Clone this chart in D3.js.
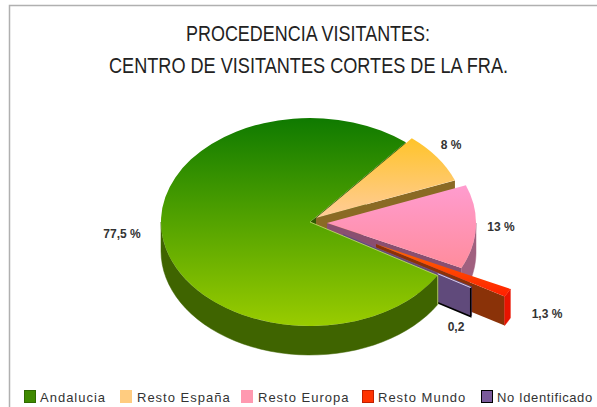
<!DOCTYPE html>
<html><head><meta charset="utf-8">
<script src="https://cdn.jsdelivr.net/npm/d3@7/dist/d3.min.js"></script>
<style>html,body{margin:0;padding:0;background:#fff;overflow:hidden}svg{display:block}</style>
</head><body><svg id="c" width="597" height="407"></svg>
<script>
const categories = ["Andalucia","Resto España","Resto Europa","Resto Mundo","No Identificado"];
const shares = [77.5,8,13,1.3,0.2];
const shareLabels = ["77,5 %","8 %","13 %","1,3 %","0,2"];
const titleLines = ["PROCEDENCIA VISITANTES:","CENTRO DE VISITANTES CORTES DE LA FRA."];

const W=597,H=407,cx=310,cy=222,rx=149,ry=104,depth=29;
const explode=[[0,0],[6,-4],[17,1],[66,22],[33,12]];
const topFrom=["#0f7a00","#ffc42a","#ff9ccf","#ff6a00","#8060a8"];
const topTo=["#99cc00","#ffcc99","#ff8c9c","#ff2000","#604a7b"];
const wall=["#2f5a00","#8a6a24","#8a4f70","#8a3208","#604a7b"];
const rim=["#3f6400","#8a6a24","#a0607f","#e81400","#604a7b"];
const swatch=["#3f8a00","#ffcc80","#ff99b0","#ff3300","#7a5a9a"];
const swatchStroke=["#2f6a00","#ffcc80","#ff99b0","#c02000","#000"];
const labelPos=[[122,238],[451,149],[501,231],[547,318],[456,331]];
const legendX=[24,120,241,362,481];
const legendTextX=[40,137,258,378,497];
const legendSpacing=[1,1,1,1,0.6];

const svg=d3.select("#c");
svg.append("rect").attr("width",W).attr("height",H).attr("fill","#fff");
svg.append("path").attr("d",`M9.5,${H} V5.5 H${W}`).attr("fill","none").attr("stroke","#b0b0b0").attr("stroke-width",1.5);

const title=svg.append("g").attr("font-family","'Liberation Sans',sans-serif").attr("font-size",22).attr("fill","#222").attr("text-anchor","middle");
title.selectAll("text").data(titleLines).join("text").attr("x",(d,i)=>[308,308.5][i]).attr("y",(d,i)=>[41,73][i])
  .attr("textLength",(d,i)=>[244,399][i]).attr("lengthAdjust","spacingAndGlyphs").text(d=>d);

const defs=svg.append("defs");
categories.forEach((c,i)=>{
  const g=defs.append("linearGradient").attr("id","g"+i).attr("x1",0).attr("y1",0).attr("x2",0).attr("y2",1);
  g.append("stop").attr("offset",0).attr("stop-color",topFrom[i]);
  g.append("stop").attr("offset",1).attr("stop-color",topTo[i]);
});

const deg=Math.PI/180;
const arcs=d3.pie().sort(null).startAngle(121*deg).endAngle(481*deg)(shares);
const arcGen=d3.arc().innerRadius(0).outerRadius(1);
const line=d3.line();
const pt=(a,i,z=0)=>[cx+explode[i][0]+rx*Math.sin(a),cy+explode[i][1]-ry*Math.cos(a)+z];
const ctr=(i,z=0)=>[cx+explode[i][0],cy+explode[i][1]+z];

function rimPts(a0,a1,i){
  const res=[];
  for(const k of [0,1]){
    const lo=Math.max(a0,90*deg+k*360*deg),hi=Math.min(a1,270*deg+k*360*deg);
    if(hi>lo){
      const s=d3.range(0,41).map(t=>lo+(hi-lo)*t/40);
      res.push([...s.map(a=>pt(a,i)),...s.reverse().map(a=>pt(a,i,depth))]);
    }
  }
  return res;
}

const pieG=svg.append("g");
const endWall=(i)=>{const d=arcs[i];pieG.append("path").attr("d",line([ctr(i),pt(d.endAngle,i),pt(d.endAngle,i,depth),ctr(i,depth)])+"Z").attr("fill",wall[i]);};
endWall(0);
[1,2,3,4,0].forEach(i=>{
  const d=arcs[i];
  if(i!==0) endWall(i);
  const g=pieG.append("g");
  rimPts(d.startAngle,d.endAngle,i).forEach(p=>g.append("path").attr("d",line(p)+"Z").attr("fill",rim[i]).attr("stroke",rim[i]).attr("stroke-width",.5));
  g.append("path").attr("d",arcGen(d))
    .attr("transform",`translate(${ctr(i)}) scale(${rx},${ry})`).attr("fill",`url(#g${i})`);
  if(i===4){
    const a=pt(d.endAngle,i),b=pt(d.endAngle,i,depth),c=ctr(i),e=ctr(i,depth);
    const along=(p,q)=>{const t=(pt(arcs[0].startAngle,0)[0]-p[0])/(q[0]-p[0]);return [p[0]+t*(q[0]-p[0]),p[1]+t*(q[1]-p[1])];};
    g.append("path").attr("d",line([along(e,b),b,a])).attr("stroke","#000").attr("stroke-width",1.5).attr("fill","none");
    g.append("path").attr("d",line([along(c,a),a])).attr("stroke","#d8d0f0").attr("stroke-width",1).attr("fill","none");
  }
});
pieG.append("path").attr("d",line([ctr(0),pt(arcs[0].startAngle,0)])).attr("stroke","#c8e070").attr("stroke-width",.8).attr("fill","none");
pieG.append("path").attr("d",line([pt(arcs[0].startAngle,0),pt(arcs[0].startAngle,0,depth)])).attr("stroke","#c8e070").attr("stroke-width",.8).attr("fill","none");

svg.append("g").attr("font-family","'Liberation Sans',Arial,sans-serif").attr("font-size",12).attr("font-weight","bold").attr("fill","#333").attr("text-anchor","middle")
  .selectAll("text").data(shareLabels).join("text").attr("x",(d,i)=>labelPos[i][0]).attr("y",(d,i)=>labelPos[i][1]).text(d=>d);

const leg=svg.append("g").selectAll("g").data(categories).join("g");
leg.append("rect").attr("x",(d,i)=>legendX[i]+.5).attr("y",390.5).attr("width",11).attr("height",12).attr("fill",(d,i)=>swatch[i]).attr("stroke",(d,i)=>swatchStroke[i]);
leg.append("text").attr("x",(d,i)=>legendTextX[i]).attr("y",401.5).attr("font-family","'Liberation Sans',Arial,sans-serif").attr("font-size",13).attr("letter-spacing",(d,i)=>legendSpacing[i]).attr("fill","#333").text(d=>d);
</script></body></html>
